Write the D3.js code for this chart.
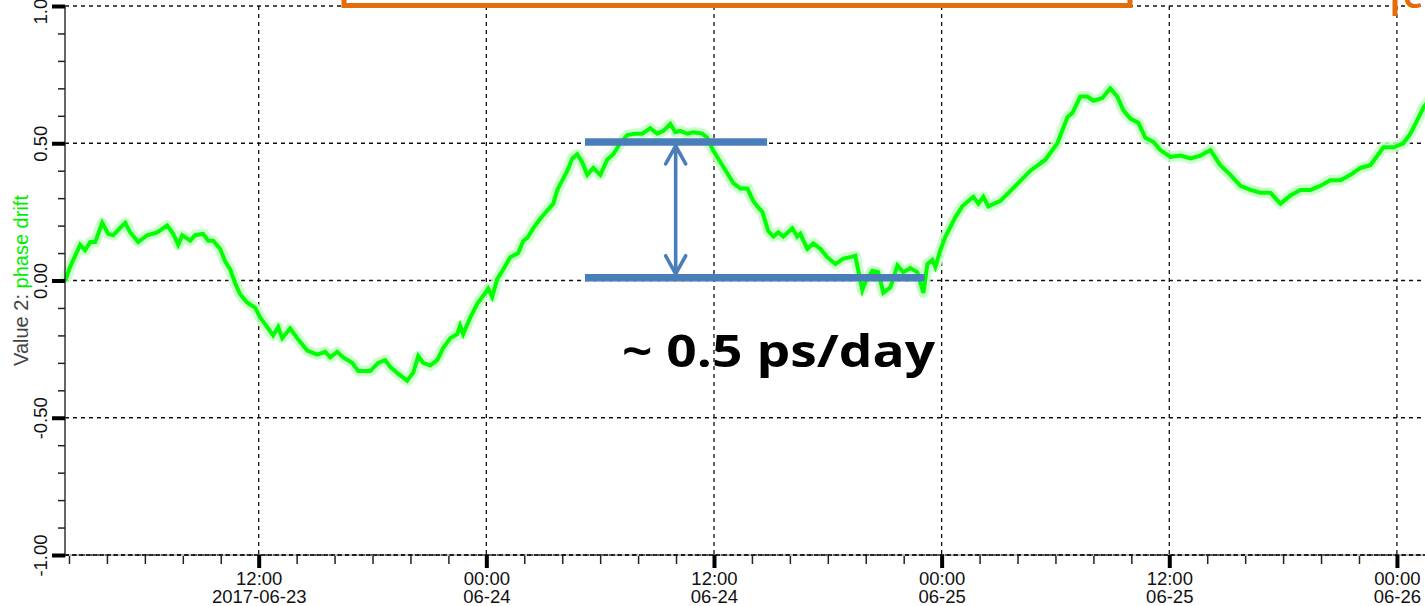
<!DOCTYPE html>
<html>
<head>
<meta charset="utf-8">
<script src="https://cdn.jsdelivr.net/npm/d3@7/dist/d3.min.js"></script>
<style>
    html, body { margin: 0; padding: 0; background: #fff; overflow: hidden; }
    svg { display: block; }
    .tick-label { font-family: "Liberation Sans", Arial, sans-serif; font-size: 18.5px; font-weight: normal; fill: #111; }
</style>
</head>
<body>
<div id="chart"></div>
<script>
// 数据：自 2017-06-23 00:00 起的小时数 与 相位漂移值
const hoursSince = [
    1.80, 2.06, 2.59, 2.85, 3.12, 3.38, 3.75, 4.07, 4.33, 4.96, 5.23, 5.65, 6.12, 6.65, 7.18, 7.49,
    7.76, 7.97, 8.39, 8.65, 9.07, 9.34, 9.60, 9.97, 10.23, 10.50, 10.76, 11.02, 11.39, 11.82, 12.08,
    12.45, 12.76, 13.03, 13.24, 13.66, 14.03, 14.56, 15.08, 15.51, 15.77, 16.14, 16.46, 16.93, 17.25,
    17.88, 18.30, 18.67, 18.93, 19.36, 19.83, 20.15, 20.41, 20.67, 21.04, 21.41, 21.73, 22.10, 22.47,
    22.62, 22.78, 23.15, 23.52, 23.84, 24.10, 24.31, 24.57, 24.89, 25.26, 25.68, 25.95, 26.16, 26.47,
    26.84, 27.21, 27.53, 27.74, 28.00, 28.27, 28.53, 28.79, 29.06, 29.32, 29.64, 30.01, 30.37, 30.69,
    31.06, 31.43, 31.85, 32.22, 32.64, 33.01, 33.33, 33.70, 33.96, 34.22, 34.59, 34.91, 35.38, 35.65,
    35.91, 36.17, 36.44, 36.75, 37.02, 37.39, 37.76, 38.07, 38.34, 38.55, 38.86, 39.13, 39.39, 39.65,
    40.13, 40.39, 40.55, 40.92, 41.24, 41.61, 41.97, 42.40, 42.82, 43.19, 43.45, 43.61, 43.82, 43.98,
    44.35, 44.66, 44.93, 45.30, 45.67, 45.98, 46.35, 46.72, 47.04, 47.25, 47.51, 47.67, 47.93, 48.20,
    48.46, 48.72, 49.09, 49.41, 49.67, 49.94, 50.20, 50.46, 51.10, 51.89, 52.68, 53.47, 54.10, 54.63,
    54.89, 55.31, 55.68, 56.00, 56.47, 56.89, 57.26, 57.58, 57.95, 58.37, 58.74, 59.16, 59.53, 60.06,
    60.59, 61.11, 61.64, 62.17, 62.69, 63.22, 63.75, 64.28, 64.80, 65.33, 65.86, 66.39, 66.91, 67.44,
    67.97, 68.49, 69.02, 69.55, 70.08, 70.60, 71.29, 71.82, 72.34, 72.71, 73.08, 73.40, 73.77
];

const phaseDrift = [
    0.00, 0.05, 0.13, 0.11, 0.14, 0.14, 0.21, 0.17, 0.165, 0.21, 0.175, 0.14, 0.165, 0.175, 0.20, 0.17,
    0.13, 0.165, 0.145, 0.165, 0.17, 0.145, 0.145, 0.115, 0.07, 0.04, -0.01, -0.05, -0.08, -0.10, -0.135,
    -0.17, -0.20, -0.17, -0.21, -0.175, -0.21, -0.255, -0.27, -0.26, -0.28, -0.26, -0.28, -0.30, -0.33,
    -0.33, -0.30, -0.29, -0.315, -0.34, -0.365, -0.335, -0.275, -0.30, -0.31, -0.29, -0.245, -0.21, -0.195,
    -0.165, -0.195, -0.135, -0.085, -0.055, -0.03, -0.06, 0.005, 0.04, 0.085, 0.10, 0.145, 0.155, 0.19,
    0.225, 0.255, 0.28, 0.33, 0.365, 0.40, 0.445, 0.46, 0.43, 0.385, 0.41, 0.385, 0.44, 0.46,
    0.50, 0.53, 0.535, 0.535, 0.555, 0.535, 0.545, 0.57, 0.54, 0.545, 0.535, 0.54, 0.535, 0.52,
    0.48, 0.45, 0.42, 0.385, 0.355, 0.335, 0.335, 0.29, 0.265, 0.25, 0.18, 0.16, 0.175, 0.16,
    0.19, 0.16, 0.17, 0.115, 0.135, 0.115, 0.085, 0.06, 0.08, 0.085, 0.09, 0.035, -0.035, -0.005,
    0.035, 0.03, -0.045, -0.025, 0.055, 0.03, 0.045, 0.03, -0.045, 0.06, 0.075, 0.05, 0.11, 0.16,
    0.195, 0.23, 0.27, 0.29, 0.305, 0.28, 0.305, 0.27, 0.29, 0.345, 0.40, 0.44, 0.50, 0.595,
    0.61, 0.67, 0.67, 0.655, 0.665, 0.70, 0.67, 0.62, 0.59, 0.575, 0.52, 0.505, 0.475, 0.45,
    0.455, 0.445, 0.455, 0.475, 0.42, 0.385, 0.345, 0.33, 0.32, 0.32, 0.28, 0.31, 0.33, 0.33,
    0.345, 0.365, 0.365, 0.385, 0.41, 0.42, 0.485, 0.485, 0.50, 0.535, 0.585, 0.63, 0.665
];

// 坐标轴刻度
const majorHours = [12, 24, 36, 48, 60, 72];
const majorTimeLabels = ['12:00', '00:00', '12:00', '00:00', '12:00', '00:00'];
const majorDateLabels = ['2017-06-23', '06-24', '06-24', '06-25', '06-25', '06-26'];
const yMajorTicks = [-1, -0.5, 0, 0.5, 1];
const yMinorTicks = d3.range(-10, 11).map(d => d / 10);

// 标注：约 0.5 ps/day
const annotTopValue = 0.505;
const annotBottomValue = 0.01;
const annotTopSpan = [29.2, 38.8];
const annotBottomSpan = [29.2, 47.1];
const annotArrowHour = 33.98;
const annotText = '~ 0.5 ps/day';

const base = new Date(2017, 5, 23, 0, 0, 0).getTime();
const toDate = h => new Date(base + h * 3600 * 1000);

const width = 1425, height = 606;
const plot = { left: 65, right: 1425, top: 6, bottom: 555 };

const svg = d3.select('#chart').append('svg')
    .attr('width', width)
    .attr('height', height);

const x = d3.scaleTime()
    .domain([toDate(1.79), toDate(73.48)])
    .range([plot.left, plot.right]);

const y = d3.scaleLinear()
    .domain([-1, 1])
    .range([plot.bottom, plot.top]);

// 网格（虚线）
const grid = svg.append('g').attr('class', 'grid');
grid.selectAll('line.h')
    .data(yMajorTicks)
    .join('line')
    .attr('x1', plot.left).attr('x2', plot.right)
    .attr('y1', d => y(d)).attr('y2', d => y(d))
    .attr('stroke', '#111')
    .attr('stroke-width', 1.3)
    .attr('stroke-dasharray', '4,4');
grid.selectAll('line.v')
    .data(majorHours)
    .join('line')
    .attr('x1', d => x(toDate(d))).attr('x2', d => x(toDate(d)))
    .attr('y1', plot.top).attr('y2', plot.bottom)
    .attr('stroke', '#111')
    .attr('stroke-width', 1.3)
    .attr('stroke-dasharray', '4,4');

// 数据线
const series = hoursSince.map((h, i) => ({ t: toDate(h), v: phaseDrift[i] }));
const line = d3.line().x(d => x(d.t)).y(d => y(d.v));

svg.append('path')
    .datum(series)
    .attr('d', line)
    .attr('fill', 'none')
    .attr('stroke', '#c4ffc4')
    .attr('stroke-width', 11)
    .attr('stroke-linejoin', 'round')
    .attr('opacity', 0.85);

svg.append('path')
    .datum(series)
    .attr('d', line)
    .attr('fill', 'none')
    .attr('stroke', '#00ff00')
    .attr('stroke-width', 4)
    .attr('stroke-linejoin', 'miter');

// 坐标轴
const axisLine = svg.append('g');
axisLine.append('line')
    .attr('x1', plot.left).attr('x2', plot.right)
    .attr('y1', plot.bottom).attr('y2', plot.bottom)
    .attr('stroke', '#777').attr('stroke-width', 1);
axisLine.append('line')
    .attr('x1', plot.left).attr('x2', plot.right)
    .attr('y1', plot.bottom).attr('y2', plot.bottom)
    .attr('stroke', '#000').attr('stroke-width', 1.6)
    .attr('stroke-dasharray', '4,3');
axisLine.append('line')
    .attr('x1', plot.left).attr('x2', plot.left)
    .attr('y1', plot.top).attr('y2', plot.bottom + 2)
    .attr('stroke', '#333').attr('stroke-width', 1.5);

// X 次刻度（每 2 小时）
svg.append('g')
    .attr('transform', `translate(0,${plot.bottom + 1})`)
    .call(d3.axisBottom(x).ticks(d3.timeHour.every(2)).tickSize(8).tickFormat(''))
    .call(g => g.select('.domain').remove())
    .call(g => g.selectAll('.tick line').attr('stroke', '#222').attr('stroke-width', 1.5));

// X 主刻度
const xMajor = svg.append('g')
    .attr('transform', `translate(0,${plot.bottom})`)
    .call(d3.axisBottom(x).tickValues(majorHours.map(toDate)).tickSize(13).tickFormat(''))
    .call(g => g.select('.domain').remove())
    .call(g => g.selectAll('.tick line').attr('stroke', '#000').attr('stroke-width', 4));

xMajor.selectAll('.tick').each(function(d, i) {
    const g = d3.select(this);
    g.append('text')
        .attr('class', 'tick-label')
        .attr('text-anchor', 'middle')
        .attr('y', 30)
        .text(majorTimeLabels[i]);
    g.append('text')
        .attr('class', 'tick-label')
        .attr('text-anchor', 'middle')
        .attr('y', 47.5)
        .text(majorDateLabels[i]);
});

// Y 次刻度
svg.append('g')
    .attr('transform', `translate(${plot.left},0)`)
    .call(d3.axisLeft(y).tickValues(yMinorTicks).tickSize(7).tickFormat(''))
    .call(g => g.select('.domain').remove())
    .call(g => g.selectAll('.tick line').attr('stroke', '#222').attr('stroke-width', 1.5));

// Y 主刻度
svg.append('g')
    .attr('transform', `translate(${plot.left},0)`)
    .call(d3.axisLeft(y).tickValues(yMajorTicks).tickSize(13).tickFormat(d => d3.format('.2f')(d).replace('−', '-')))
    .call(g => g.select('.domain').remove())
    .call(g => g.selectAll('.tick line').attr('stroke', '#000').attr('stroke-width', 4))
    .call(g => g.selectAll('.tick text')
        .attr('class', 'tick-label')
        .attr('x', null).attr('dy', null)
        .attr('text-anchor', 'middle')
        .attr('transform', 'translate(-18,0) rotate(-90)')
        .attr('fill', '#111'));

// Y 轴标题
const yTitle = svg.append('text')
    .attr('transform', `translate(28,${y(0)}) rotate(-90)`)
    .attr('text-anchor', 'middle')
    .style('font-family', '"Liberation Sans", Arial, sans-serif')
    .style('font-size', '20px');
yTitle.append('tspan').attr('fill', '#444').text('Value 2: ');
yTitle.append('tspan').attr('fill', '#00ee00').text('phase drift');

// 标注
const blue = '#4a7ebb';
const annot = svg.append('g').attr('class', 'annotation');
annot.append('line')
    .attr('x1', x(toDate(annotTopSpan[0]))).attr('x2', x(toDate(annotTopSpan[1])))
    .attr('y1', y(annotTopValue)).attr('y2', y(annotTopValue))
    .attr('stroke', blue).attr('stroke-width', 7.5);
annot.append('line')
    .attr('x1', x(toDate(annotBottomSpan[0]))).attr('x2', x(toDate(annotBottomSpan[1])))
    .attr('y1', y(annotBottomValue)).attr('y2', y(annotBottomValue))
    .attr('stroke', blue).attr('stroke-width', 7.5);

const ax = x(toDate(annotArrowHour));
const ay1 = y(annotTopValue) + 4;
const ay2 = y(annotBottomValue) - 4;
annot.append('path')
    .attr('d', `M${ax},${ay1}L${ax},${ay2}` +
        `M${ax - 10},${ay1 + 18}L${ax},${ay1}L${ax + 10},${ay1 + 18}` +
        `M${ax - 10},${ay2 - 18}L${ax},${ay2}L${ax + 10},${ay2 - 18}`)
    .attr('fill', 'none')
    .attr('stroke', blue)
    .attr('stroke-width', 3.6)
    .attr('stroke-linecap', 'round')
    .attr('stroke-linejoin', 'round');

svg.append('text')
    .attr('x', 622)
    .attr('y', 367)
    .attr('textLength', 313)
    .attr('lengthAdjust', 'spacingAndGlyphs')
    .style('font-family', '"Open Sans", "Noto Sans", sans-serif')
    .style('font-weight', 'bold')
    .style('font-size', '44px')
    .attr('fill', '#000')
    .text(annotText);

// 顶部被裁切的橙色框
const orange = '#e46c0a';
svg.append('rect')
    .attr('x', 344).attr('y', -40)
    .attr('width', 786).attr('height', 45.5)
    .attr('fill', '#fff')
    .attr('stroke', orange)
    .attr('stroke-width', 5);
svg.append('line')
    .attr('x1', 1395).attr('x2', 1395)
    .attr('y1', -5).attr('y2', 16)
    .attr('stroke', orange).attr('stroke-width', 5);
svg.append('text')
    .attr('x', 1403).attr('y', 8)
    .style('font-family', '"Noto Sans", sans-serif')
    .style('font-weight', 'bold')
    .style('font-size', '30px')
    .attr('fill', orange)
    .text('C');
</script>
</body>
</html>
